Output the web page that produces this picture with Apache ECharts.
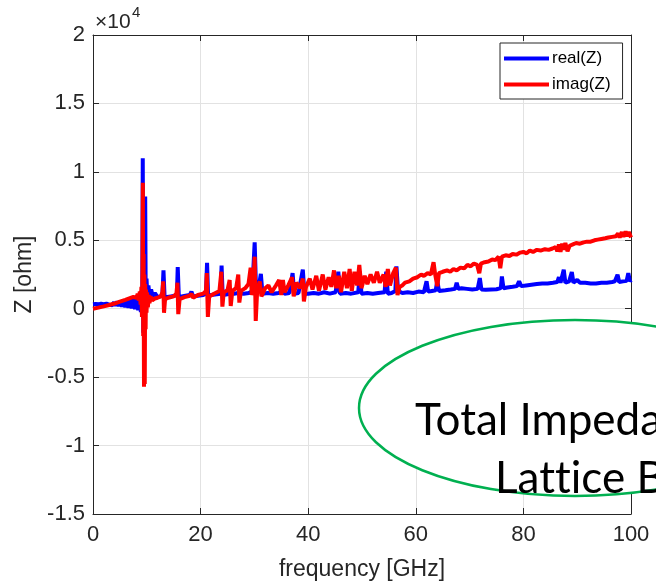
<!DOCTYPE html>
<html>
<head>
<meta charset="utf-8">
<script src="https://cdn.jsdelivr.net/npm/echarts@6/dist/echarts.min.js"></script>
<style>
  html, body { margin: 0; padding: 0; background: #fff; }
  #chart { width: 656px; height: 588px; }
</style>
</head>
<body>
<div id="chart"></div>
<script>
// Impedance of the structure versus frequency: [frequency in GHz, Z in ohm]
const realZ = [
  [0,330],[0.5,350],[1,320],[1.5,360],[2,330],[2.5,370],[3,300],[3.3,420],[3.6,260],[3.9,470],
  [4.2,230],[4.5,520],[4.8,190],[5.1,580],[5.4,150],[5.7,630],[6,110],[6.3,680],[6.6,70],[6.9,740],
  [7.2,20],[7.5,800],[7.8,-40],[8.1,880],[8.4,-120],[8.7,1000],[8.9,-250],[9.05,1300],[9.15,-600],[9.25,11000],
  [9.35,-1750],[9.45,2500],[9.55,-300],[9.7,8200],[9.8,600],[9.95,2200],[10.1,900],[10.3,1700],[10.5,950],[10.8,1400],
  [11.1,900],[11.5,1150],[12,850],[12.5,900],[12.9,1000],[13.1,2800],[13.3,900],[13.8,850],[14.5,900],[15.2,950],
  [15.6,1100],[15.75,3050],[15.95,900],[16.5,900],[17.2,950],[18,1000],[18.3,1250],[18.6,900],[19.5,950],[20.5,1000],
  [21,1100],[21.2,3350],[21.4,950],[22,1000],[23,1050],[23.7,1100],[23.9,3150],[24.1,1000],[25,1050],[25.5,1200],
  [26.2,1100],[27,1150],[28,1100],[29,1150],[29.6,1300],[30.05,4850],[30.3,1500],[30.7,1300],[31.2,2550],[31.5,1100],
  [32.5,1150],[33.5,1100],[34.5,1150],[35.3,1300],[35.6,1100],[36.5,1150],[37.1,2600],[37.4,1100],[38.2,1150],[39,2850],
  [39.3,1100],[40,1100],[41,1150],[42,1100],[43,1200],[44,1100],[45.1,1200],[45.6,2700],[45.9,1100],[47,1150],
  [48,1100],[49.3,1200],[49.6,2700],[49.9,1100],[51,1150],[52,1100],[53,1150],[54.2,1200],[54.5,2700],[54.8,1100],
  [55.5,1150],[56.2,1300],[56.4,3100],[56.7,1300],[57.5,1150],[58.5,1200],[59.5,1150],[60.5,1250],[61.5,1200],[62,2000],
  [62.3,1250],[63,1300],[63.7,1350],[64,2050],[64.3,1300],[65.5,1350],[66.5,1400],[67.3,1450],[67.6,1900],[67.9,1450],
  [68.5,1500],[69.5,1450],[70.5,1400],[71.5,1450],[71.9,2240],[72.2,1400],[73,1380],[74,1400],[75,1420],[75.8,1500],
  [76,2360],[76.3,1500],[77,1550],[78,1600],[78.8,1650],[79.2,2000],[79.6,1650],[80.5,1700],[81.5,1750],[82.5,1800],
  [83.5,1850],[84.5,1850],[85.5,1900],[86.3,1950],[86.6,2300],[86.9,1900],[87.5,2850],[87.8,1900],[88.5,2000],[89,2680],
  [89.3,1900],[90,2100],[90.5,1900],[91.5,1900],[92.5,1850],[93.5,1850],[94.5,1900],[95.5,1900],[96.5,1950],[97,2000],
  [97.5,2480],[97.8,1950],[98.5,2000],[99.2,2050],[99.5,2600],[99.8,2000],[100,2100]
];

const imagZ = [
  [0,0],[1,80],[2,170],[3,270],[4,380],[5,520],[6,650],[6.5,720],[7,790],[7.5,860],
  [7.8,950],[8.1,800],[8.3,1100],[8.5,600],[8.7,1250],[8.85,300],[9.0,1600],[9.1,-600],[9.2,3000],[9.27,9200],
  [9.33,-2000],[9.4,4000],[9.48,-5700],[9.55,2500],[9.62,-5500],[9.7,1800],[9.78,-1500],[9.85,1400],[9.95,-300],[10.05,1200],
  [10.2,100],[10.35,1000],[10.5,400],[10.7,900],[11,600],[11.5,750],[12,800],[12.6,900],[12.9,1200],[13.05,2000],
  [13.2,-300],[13.4,700],[14,800],[15,900],[15.5,1100],[15.7,1900],[15.85,-400],[16.1,700],[17,850],[18,950],
  [18.3,1100],[18.6,800],[19.5,1000],[20.5,1100],[21,1300],[21.15,2600],[21.35,-600],[21.6,900],[22.5,1100],[23.5,1300],
  [23.85,2700],[24.05,150],[24.3,1200],[25,1350],[25.4,2100],[25.6,200],[25.9,1300],[26.6,1500],[27,2500],[27.2,450],
  [27.5,1300],[28.3,1500],[28.9,1800],[29.3,3000],[29.5,1000],[29.8,1600],[30.05,3800],[30.25,-900],[30.5,1200],[31,2000],
  [31.3,900],[32,1500],[32.6,1700],[33.2,1200],[34,1700],[34.6,2100],[35.0,1000],[35.3,2100],[35.6,1200],[36.3,1700],
  [37,2300],[37.3,900],[37.8,1900],[38.5,1500],[39,2200],[39.2,530],[39.6,1600],[40.3,2200],[40.8,1400],[41.5,2400],
  [42,1300],[42.7,2500],[43.2,1400],[43.8,2300],[44.3,1600],[44.8,2800],[45.2,1500],[45.7,2400],[46.1,1200],[46.7,2700],
  [47.2,1500],[47.7,2900],[48.1,1300],[48.6,2700],[49.1,1700],[49.5,3200],[49.9,1500],[50.5,2400],[51,1800],[51.6,2500],
  [52.2,1900],[52.8,2700],[53.3,1900],[54,2500],[54.4,1600],[54.8,2900],[55.2,1700],[55.8,2600],[56.3,3000],[56.6,1000],
  [57,1600],[57.5,1700],[58,1900],[58.8,2000],[59.5,2200],[60.3,2300],[61,2500],[61.5,2400],[62.2,2600],[62.8,2500],
  [63.3,3400],[63.6,2500],[64,1650],[64.3,2600],[65,2700],[65.8,2800],[66.4,2700],[67,2900],[67.6,2800],[68.3,3000],
  [69,2950],[69.6,3200],[70.2,3100],[70.8,3300],[71.4,3200],[71.8,2600],[72.1,3300],[72.8,3400],[73.5,3450],[74.2,3600],
  [74.8,3550],[75.4,3800],[75.7,2950],[76,3800],[76.7,3900],[77.4,3850],[78,4000],[78.7,3950],[79.4,4100],[80,4150],
  [80.6,4050],[81.2,4250],[81.8,4150],[82.5,4300],[83.2,4250],[84,4350],[84.7,4300],[85.4,4400],[86,4500],[86.3,4200],
  [86.6,4700],[86.9,4150],[87.2,4750],[87.5,4300],[87.8,4800],[88.2,4200],[88.6,4600],[89.2,4700],[89.8,4800],[90.5,4750],
  [91.2,4850],[91.8,4900],[92.5,4900],[93.2,5000],[93.8,5050],[94.5,5100],[95.2,5150],[95.8,5200],[96.5,5250],[97.2,5300],
  [97.6,5500],[97.9,5200],[98.3,5600],[98.6,5250],[99,5650],[99.3,5300],[99.6,5600],[100,5200]
];

const seriesNames = ['real(Z)', 'imag(Z)'];
const seriesColors = ['#0000ff', '#ff0000'];
const freqTicks = { min: 0, max: 100, step: 20 };
const zTicks = { min: -15000, max: 20000, step: 5000 };
const zScale = 1e4;
// zero-width non-joiners keep the "tti" letters apart (no ligature)
const calloutLines = ['Total Impedance of', 'Lat\u200Ct\u200Cice Beam'];

const ink = '#262626';
const uiFont = 'Liberation Sans, Arial, sans-serif';
const calloutFont = '44px Lato, "Open Sans", sans-serif';

const chart = echarts.init(document.getElementById('chart'), null, { renderer: 'canvas' });

const frameAxis = {
  axisLine: { show: true, onZero: false, lineStyle: { color: ink, width: 1 } },
  axisTick: { show: true, inside: true, length: 6, lineStyle: { color: ink } },
  axisLabel: { show: false },
  splitLine: { show: false }
};

chart.setOption({
  animation: false,
  backgroundColor: '#ffffff',
  grid: { left: 93, right: 25, top: 35, bottom: 74 },
  legend: {
    data: seriesNames,
    orient: 'vertical',
    left: 500,
    top: 43,
    icon: 'rect',
    itemWidth: 45,
    itemHeight: 4,
    itemGap: 9,
    padding: [7, 12, 6, 4],
    backgroundColor: '#ffffff',
    borderColor: ink,
    borderWidth: 1,
    borderRadius: 0,
    textStyle: { color: '#000', fontSize: 17, fontFamily: uiFont, padding: [0, 0, 0, -2] }
  },
  xAxis: [
    {
      type: 'value',
      position: 'bottom',
      min: freqTicks.min, max: freqTicks.max, interval: freqTicks.step,
      name: 'frequency [GHz]',
      nameLocation: 'middle',
      nameGap: 44,
      nameTextStyle: { color: ink, fontSize: 23, fontFamily: uiFont },
      axisLine: { show: true, onZero: false, lineStyle: { color: ink, width: 1 } },
      axisTick: { show: true, inside: true, length: 6, lineStyle: { color: ink } },
      axisLabel: { color: ink, fontSize: 22, fontFamily: uiFont, margin: 10 },
      splitLine: { show: true, lineStyle: { color: '#e2e2e2', width: 1 } }
    },
    Object.assign({
      type: 'value', position: 'top',
      min: freqTicks.min, max: freqTicks.max, interval: freqTicks.step
    }, frameAxis)
  ],
  yAxis: [
    {
      type: 'value',
      position: 'left',
      min: zTicks.min, max: zTicks.max, interval: zTicks.step,
      name: 'Z [ohm]',
      nameLocation: 'middle',
      nameGap: 50,
      nameTextStyle: { color: ink, fontSize: 23, fontFamily: uiFont },
      axisLine: { show: true, onZero: false, lineStyle: { color: ink, width: 1 } },
      axisTick: { show: true, inside: true, length: 6, lineStyle: { color: ink } },
      axisLabel: {
        color: ink, fontSize: 22, fontFamily: uiFont, margin: 8,
        formatter: v => String(v / zScale)
      },
      splitLine: { show: true, lineStyle: { color: '#e2e2e2', width: 1 } }
    },
    Object.assign({
      type: 'value', position: 'right',
      min: zTicks.min, max: zTicks.max, interval: zTicks.step
    }, frameAxis)
  ],
  series: [
    {
      name: seriesNames[0],
      type: 'line',
      data: realZ,
      showSymbol: false,
      symbol: 'none',
      color: seriesColors[0],
      lineStyle: { color: seriesColors[0], width: 4, join: 'bevel' },
      z: 2
    },
    {
      name: seriesNames[1],
      type: 'line',
      data: imagZ,
      showSymbol: false,
      symbol: 'none',
      color: seriesColors[1],
      lineStyle: { color: seriesColors[1], width: 4, join: 'bevel' },
      z: 3
    }
  ],
  graphic: [
    {
      type: 'text', left: 95, top: 12, z: 50,
      style: { text: '×10', fill: ink, font: '21px ' + uiFont }
    },
    {
      type: 'text', left: 132, top: 5, z: 50,
      style: { text: '4', fill: ink, font: '15px ' + uiFont }
    },
    {
      type: 'ellipse', z: 100,
      shape: { cx: 575, cy: 408, rx: 216, ry: 88 },
      style: { fill: '#ffffff', stroke: '#00b050', lineWidth: 2.5 }
    },
    {
      type: 'text', z: 101, x: 415, y: 399,
      style: { text: calloutLines[0], fill: '#000', font: calloutFont, textAlign: 'left', textVerticalAlign: 'alphabetic' }
    },
    {
      type: 'text', z: 101, x: 495, y: 457,
      style: { text: calloutLines[1], fill: '#000', font: calloutFont, textAlign: 'left', textVerticalAlign: 'alphabetic' }
    }
  ]
});
</script>
</body>
</html>
